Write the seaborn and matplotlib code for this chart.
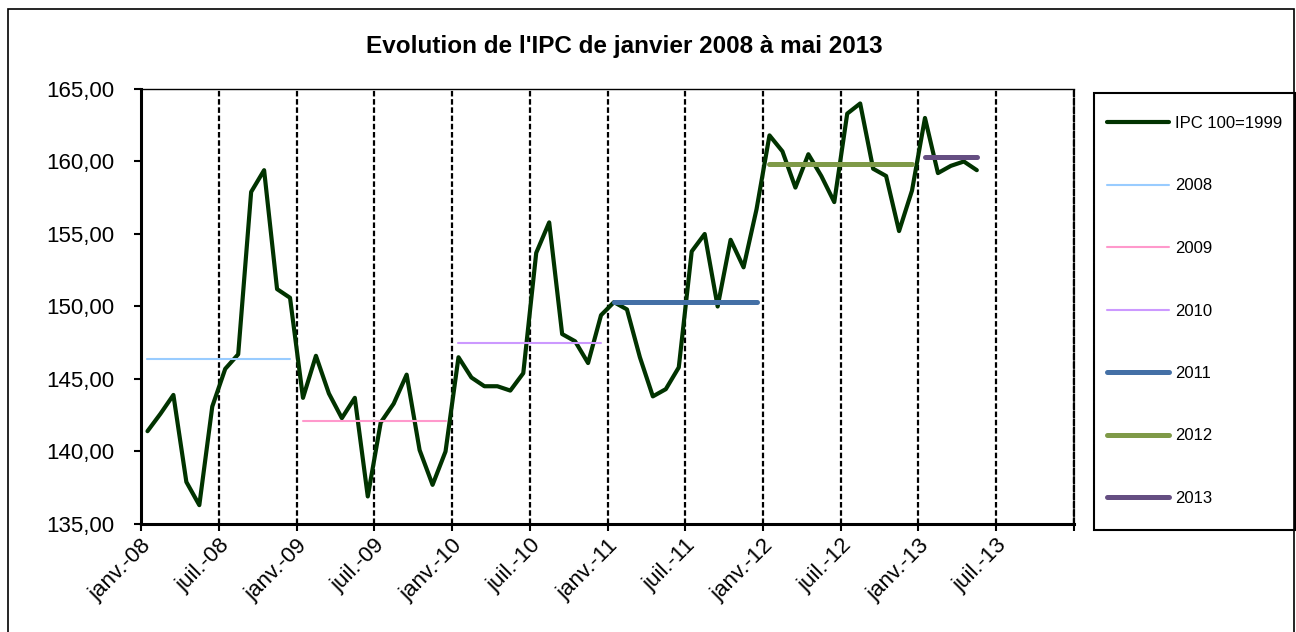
# =========================
# EVOLUTION DE L'IPC 2008 - 2013
# courbe mensuelle + moyennes annuelles
# =========================

import numpy as np
import pandas as pd

import matplotlib
matplotlib.use("Agg")
import matplotlib.pyplot as plt
from matplotlib.patches import Rectangle
import seaborn as sns


# =========================
# 1. DATA
# =========================
# IPC mensuel (100 = 1999), janvier 2008 -> mai 2013
ipc = [141.4, 142.6, 143.9, 137.9, 136.3, 143.1, 145.7, 146.7, 157.9, 159.4, 151.2, 150.6,
       143.7, 146.6, 144.0, 142.3, 143.7, 136.9, 142.0, 143.3, 145.3, 140.1, 137.7, 140.0,
       146.5, 145.1, 144.5, 144.5, 144.2, 145.4, 153.7, 155.8, 148.1, 147.6, 146.1, 149.4,
       150.3, 149.8, 146.5, 143.8, 144.3, 145.8, 153.8, 155.0, 150.0, 154.6, 152.7, 156.7,
       161.8, 160.7, 158.2, 160.5, 159.0, 157.2, 163.3, 164.0, 159.5, 159.0, 155.2, 158.0,
       163.0, 159.2, 159.7, 160.0, 159.4]

annees = [2008, 2009, 2010, 2011, 2012, 2013]
moyennes = [146.4, 142.1, 147.5, 150.3, 159.8, 160.3]

couleurs = ["#99CCFF", "#FF99CC", "#CC99FF", "#4470A6", "#7F9A48", "#654E82"]
epaisseurs = [1.5, 1.5, 1.5, 3.6, 3.6, 3.6]

xtick_labels = ["janv.-08", "juil.-08", "janv.-09", "juil.-09", "janv.-10", "juil.-10",
                "janv.-11", "juil.-11", "janv.-12", "juil.-12", "janv.-13", "juil.-13", ""]
yticks = [135, 140, 145, 150, 155, 160, 165]
ytick_labels = ["135,00", "140,00", "145,00", "150,00", "155,00", "160,00", "165,00"]


# =========================
# 2. DATAFRAME
# =========================
n = len(ipc)
df = pd.DataFrame({
    "mois": np.arange(n) + 0.5,          # milieu du mois
    "ipc": ipc,
    "annee": annees[0] + np.arange(n) // 12,
})


# =========================
# 3. STYLE
# =========================
sns.set_style("white")
plt.rcParams["font.family"] = ["Liberation Sans", "DejaVu Sans"]
plt.rcParams["text.color"] = "black"
plt.rcParams["xtick.color"] = "black"
plt.rcParams["ytick.color"] = "black"
plt.rcParams["axes.labelcolor"] = "black"

fig = plt.figure(figsize=(12.96, 6.32), dpi=100)
ax = fig.add_axes([0.1088, 0.1709, 0.7199, 0.6883])


# =========================
# 4. COURBES
# =========================
sns.lineplot(data=df, x="mois", y="ipc", color="#013300", linewidth=3.0,
             label="IPC 100=1999", ax=ax, zorder=3)

for annee, moy, c, lw in zip(annees, moyennes, couleurs, epaisseurs):
    sub = df[df["annee"] == annee]
    seg = pd.DataFrame({"mois": [sub["mois"].min(), sub["mois"].max()],
                        "val": [moy, moy]})
    sns.lineplot(data=seg, x="mois", y="val", color=c, linewidth=lw,
                 label=str(annee), ax=ax, zorder=4, solid_capstyle="round")


# =========================
# 5. AXES
# =========================
ax.set_xlim(0, 72)
ax.set_ylim(135, 165)
ax.set_xticks(np.arange(0, 73, 6))
ax.set_xticklabels(xtick_labels, rotation=45, ha="right", rotation_mode="anchor",
                   fontsize=16)
ax.set_yticks(yticks)
ax.set_yticklabels(ytick_labels, fontsize=16)
ax.set_xlabel("")
ax.set_ylabel("")

ax.grid(axis="x", color="black", linestyle=(0, (2.5, 1.2)), linewidth=1.6)
ax.grid(axis="y", visible=False)

for side in ["left", "bottom"]:
    ax.spines[side].set_linewidth(2.2)
    ax.spines[side].set_color("black")
ax.spines["top"].set_linewidth(1.0)
ax.spines["top"].set_color("black")
ax.spines["right"].set_linestyle((0, (2.5, 1.2)))
ax.spines["right"].set_linewidth(1.6)
ax.spines["right"].set_color("black")

ax.tick_params(axis="both", direction="out", length=5, width=1.5, color="black",
               left=True, bottom=True)
ax.tick_params(axis="y", pad=14)
ax.tick_params(axis="x", pad=3)

# titre
fig.text(0.4815, 0.927, "Evolution de l'IPC de janvier 2008 à mai 2013",
         ha="center", va="center", fontsize=17.5, fontweight="bold", color="black")


# =========================
# 6. LEGENDE
# =========================
handles, labels = ax.get_legend_handles_labels()
ax.get_legend().remove()
fig.legend(handles, labels, loc="upper left",
           bbox_to_anchor=(1107 / 1296, 1 - 116 / 632),
           frameon=False, fontsize=12, handlelength=3.7, handletextpad=0.4,
           labelspacing=2.85, borderaxespad=0, borderpad=0)

fig.add_artist(Rectangle((1094 / 1296, (632 - 530) / 632), 201 / 1296, 437 / 632,
                         transform=fig.transFigure, fill=False,
                         edgecolor="black", linewidth=1.5))

# cadre exterieur
fig.add_artist(Rectangle((8 / 1296, -0.05), 1286 / 1296, (632 - 9) / 632 + 0.05,
                         transform=fig.transFigure, fill=False,
                         edgecolor="black", linewidth=1.2))

plt.savefig("out.png", dpi=100)
